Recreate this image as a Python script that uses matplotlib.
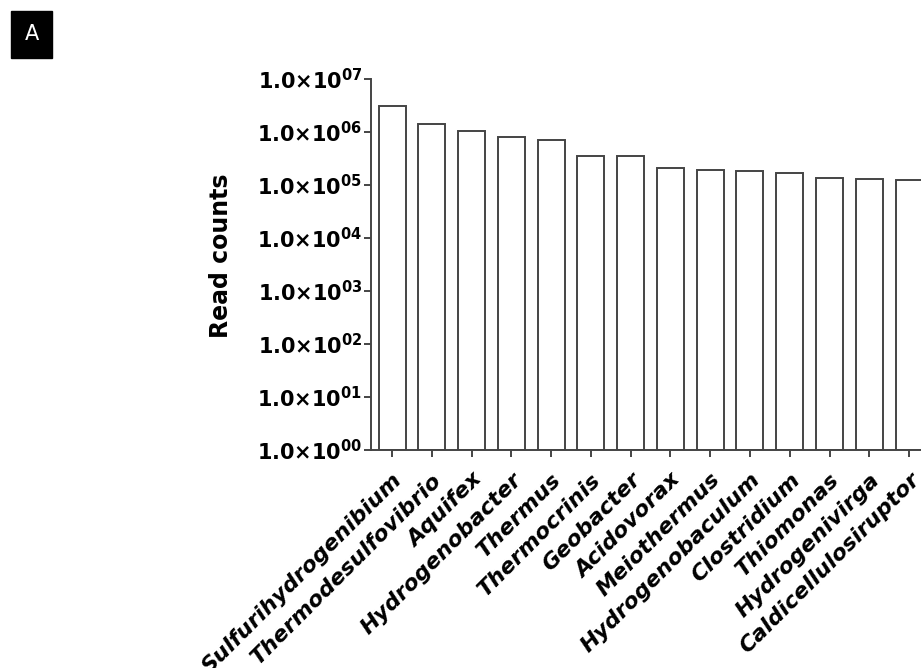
import numpy as np
import matplotlib
matplotlib.use('Agg')
from matplotlib import pyplot as plt

# genera and read counts (log scale)
genera = ['Sulfurihydrogenibium', 'Thermodesulfovibrio', 'Aquifex', 'Hydrogenobacter',
          'Thermus', 'Thermocrinis', 'Geobacter', 'Acidovorax', 'Meiothermus',
          'Hydrogenobaculum', 'Clostridium', 'Thiomonas', 'Hydrogenivirga',
          'Caldicellulosiruptor']
counts = [3.1e6, 1.43e6, 1.06e6, 7.9e5, 7.2e5, 3.6e5, 3.6e5, 2.12e5, 1.94e5,
          1.86e5, 1.66e5, 1.37e5, 1.32e5, 1.24e5]
ytick_vals = [1e0, 1e1, 1e2, 1e3, 1e4, 1e5, 1e6, 1e7]
ytick_labels = [r'$\mathbf{1.0{\times}10^{0%d}}$' % i for i in range(8)]

plt.rcParams['font.family'] = ['DejaVu Sans']
edge = '#444444'

fig = plt.figure(figsize=(9.21, 6.68), dpi=100)
ax = fig.add_axes([0.4028, 0.3263, 0.649, 0.5554])

x = np.arange(len(genera))
ax.bar(x, counts, width=0.68, bottom=1, color='white', edgecolor=edge, linewidth=1.4)

ax.set_yscale('log')
ax.set_ylim(1, 1e7)
ax.set_xlim(-0.53, 14.5)
ax.set_yticks(ytick_vals)
ax.set_yticklabels(ytick_labels, fontsize=15)
ax.yaxis.set_minor_locator(matplotlib.ticker.NullLocator())
ax.set_xticks(x)
ax.set_xticklabels(genera, rotation=45, ha='right', rotation_mode='anchor',
                   fontsize=16, fontweight='bold', fontstyle='italic')

for s in ['top', 'right']:
    ax.spines[s].set_visible(False)
for s in ['left', 'bottom']:
    ax.spines[s].set_color(edge)
    ax.spines[s].set_linewidth(1.4)
ax.tick_params(axis='y', length=5, width=1.4, color=edge, pad=1)
ax.tick_params(axis='x', length=5, width=1.4, color=edge, pad=9)

ax.set_ylabel('Read counts', fontsize=17, fontweight='bold')
ax.yaxis.set_label_coords(-0.231, 0.523)

# panel letter
fig.text(0.0342, 0.949, 'A', color='white', fontsize=15, ha='center', va='center',
         bbox=dict(facecolor='black', edgecolor='black', boxstyle='square,pad=0.65'))

fig.savefig('out.png', dpi=100)
